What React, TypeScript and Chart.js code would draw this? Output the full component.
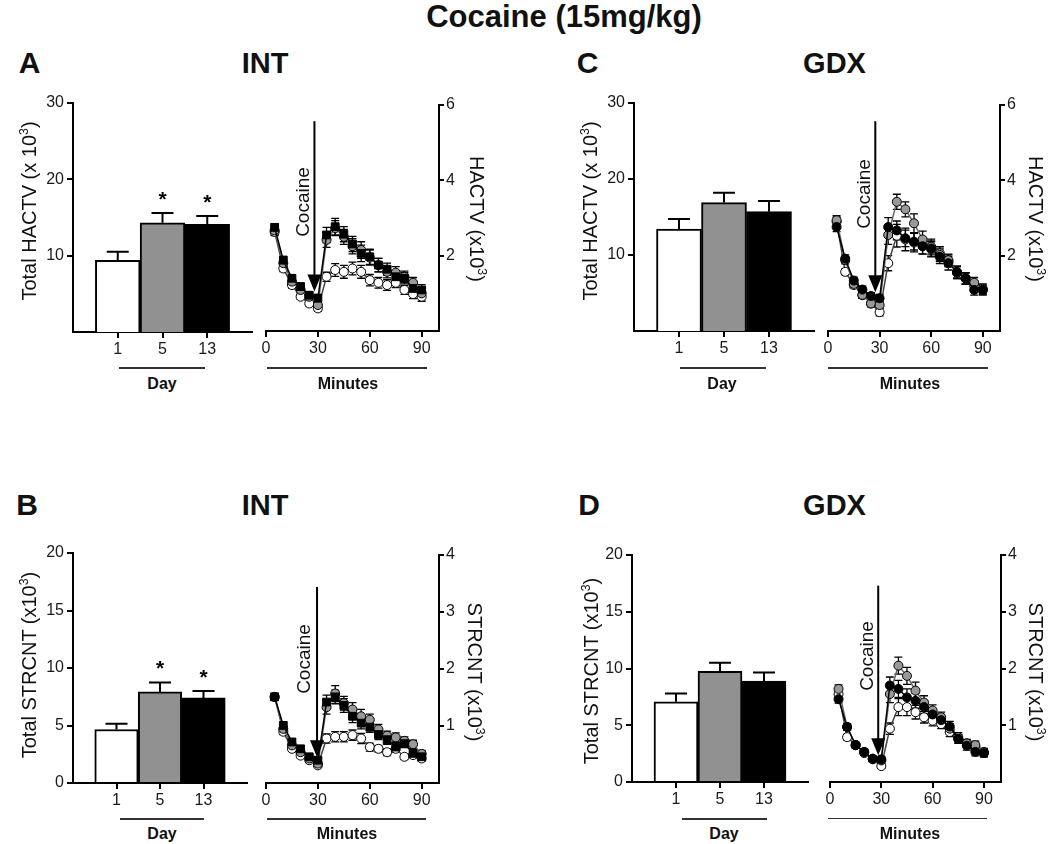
import React, { useEffect, useRef } from 'react';
import { Chart, registerables } from 'chart.js';

Chart.register(...registerables);

const FONT = "'Liberation Sans', Arial, Helvetica, sans-serif";

// ---------- data ----------
const dayLabels = ['1', '5', '13'];
const dayPositions = [1, 2, 3];
const barColors = ['#ffffff', '#919191', '#000000'];

const minutes = [5, 10, 15, 20, 25, 30, 35, 40, 45, 50, 55, 60, 65, 70, 75, 80, 85, 90];
const minuteTicks = [0, 30, 60, 90];

const hactvTotalTicks = [10, 20, 30];
const strcntTotalTicks = [0, 5, 10, 15, 20];
const hactvMinuteTicks = [2, 4, 6];
const strcntMinuteTicks = [1, 2, 3, 4];

// Totals (bars)
const hactvIntTotals = [9.4, 14.3, 14.1];
const hactvIntTotalsSem = [1.1, 1.3, 1.1];
const hactvIntStars = ['', '*', '*'];
const hactvGdxTotals = [13.4, 16.9, 15.7];
const hactvGdxTotalsSem = [1.35, 1.3, 1.4];
const hactvGdxStars = ['', '', ''];
const strcntIntTotals = [4.65, 7.92, 7.4];
const strcntIntTotalsSem = [0.5, 0.82, 0.6];
const strcntIntStars = ['', '*', '*'];
const strcntGdxTotals = [7.07, 9.76, 8.89];
const strcntGdxTotalsSem = [0.73, 0.74, 0.76];
const strcntGdxStars = ['', '', ''];

// Time courses (x10^3)
const hactvIntDay1 = [2.63, 1.66, 1.22, 0.91, 0.73, 0.6, 1.44, 1.62, 1.57, 1.66, 1.57, 1.35, 1.28, 1.22, 1.28, 1.09, 0.98, 0.91];
const hactvIntDay5 = [2.67, 1.8, 1.31, 1.09, 0.91, 0.69, 2.42, 2.73, 2.5, 2.25, 2.15, 1.95, 1.75, 1.57, 1.55, 1.44, 1.28, 1.0];
const hactvIntDay13 = [2.75, 1.88, 1.4, 1.18, 0.95, 0.87, 2.55, 2.77, 2.57, 2.31, 2.06, 1.97, 1.75, 1.64, 1.44, 1.4, 1.13, 1.09];
const hactvIntDay1Sem = [0.1, 0.08, 0.08, 0.07, 0.07, 0.08, 0.12, 0.17, 0.17, 0.17, 0.17, 0.15, 0.14, 0.14, 0.13, 0.12, 0.12, 0.12];
const hactvIntDay5Sem = [0.12, 0.1, 0.09, 0.09, 0.09, 0.1, 0.2, 0.2, 0.2, 0.2, 0.22, 0.2, 0.18, 0.16, 0.16, 0.15, 0.14, 0.13];
const hactvIntDay13Sem = [0.1, 0.1, 0.09, 0.09, 0.09, 0.1, 0.2, 0.22, 0.2, 0.2, 0.22, 0.2, 0.18, 0.16, 0.16, 0.15, 0.14, 0.14];

const hactvGdxDay1 = [2.9, 1.57, 1.22, 0.95, 0.73, 0.5, 1.8, 2.53, 2.43, 2.35, 2.26, 2.17, 2.06, 1.86, 1.55, 1.39, 1.2, 1.12];
const hactvGdxDay5 = [2.94, 1.88, 1.25, 0.96, 0.73, 0.69, 2.55, 3.43, 3.23, 2.86, 2.43, 2.24, 2.02, 1.88, 1.55, 1.4, 1.28, 1.09];
const hactvGdxDay13 = [2.76, 1.92, 1.34, 1.1, 0.93, 0.87, 2.76, 2.67, 2.46, 2.37, 2.25, 2.19, 1.97, 1.8, 1.57, 1.4, 1.09, 1.09];
const hactvGdxDay1Sem = [0.12, 0.08, 0.08, 0.08, 0.08, 0.1, 0.2, 0.3, 0.3, 0.25, 0.22, 0.2, 0.18, 0.16, 0.16, 0.15, 0.14, 0.13];
const hactvGdxDay5Sem = [0.12, 0.1, 0.09, 0.09, 0.09, 0.1, 0.25, 0.2, 0.2, 0.25, 0.22, 0.2, 0.18, 0.16, 0.16, 0.15, 0.14, 0.13];
const hactvGdxDay13Sem = [0.12, 0.1, 0.09, 0.09, 0.09, 0.1, 0.25, 0.25, 0.22, 0.22, 0.2, 0.2, 0.18, 0.18, 0.16, 0.15, 0.14, 0.13];

const strcntIntDay1 = [1.51, 0.9, 0.6, 0.48, 0.4, 0.31, 0.78, 0.81, 0.81, 0.84, 0.78, 0.63, 0.6, 0.54, 0.6, 0.46, 0.49, 0.43];
const strcntIntDay5 = [1.51, 0.95, 0.66, 0.54, 0.43, 0.34, 1.33, 1.57, 1.4, 1.29, 1.17, 1.11, 0.94, 0.83, 0.8, 0.74, 0.68, 0.51];
const strcntIntDay13 = [1.51, 1.01, 0.72, 0.6, 0.46, 0.4, 1.42, 1.51, 1.36, 1.17, 1.05, 0.98, 0.85, 0.76, 0.63, 0.69, 0.52, 0.46];
const strcntIntDay1Sem = [0.05, 0.05, 0.04, 0.04, 0.04, 0.04, 0.08, 0.09, 0.09, 0.09, 0.09, 0.07, 0.06, 0.06, 0.06, 0.05, 0.05, 0.05];
const strcntIntDay5Sem = [0.06, 0.06, 0.05, 0.05, 0.05, 0.05, 0.12, 0.14, 0.12, 0.12, 0.12, 0.1, 0.09, 0.08, 0.08, 0.07, 0.07, 0.06];
const strcntIntDay13Sem = [0.06, 0.06, 0.05, 0.05, 0.05, 0.05, 0.12, 0.12, 0.12, 0.11, 0.1, 0.09, 0.09, 0.08, 0.08, 0.07, 0.07, 0.07];

const strcntGdxDay1 = [1.55, 0.79, 0.65, 0.51, 0.4, 0.28, 0.94, 1.32, 1.32, 1.23, 1.14, 1.08, 1.02, 0.88, 0.76, 0.68, 0.62, 0.51];
const strcntGdxDay5 = [1.64, 0.97, 0.65, 0.53, 0.41, 0.38, 1.55, 2.05, 1.87, 1.61, 1.4, 1.26, 1.14, 0.94, 0.79, 0.68, 0.65, 0.53];
const strcntGdxDay13 = [1.46, 0.97, 0.65, 0.53, 0.41, 0.4, 1.7, 1.64, 1.49, 1.43, 1.32, 1.19, 1.09, 0.98, 0.76, 0.64, 0.53, 0.51];
const strcntGdxDay1Sem = [0.06, 0.05, 0.05, 0.04, 0.04, 0.04, 0.1, 0.15, 0.15, 0.12, 0.1, 0.09, 0.08, 0.08, 0.07, 0.06, 0.06, 0.06];
const strcntGdxDay5Sem = [0.07, 0.06, 0.05, 0.05, 0.05, 0.05, 0.15, 0.15, 0.15, 0.15, 0.12, 0.1, 0.09, 0.08, 0.08, 0.07, 0.07, 0.06];
const strcntGdxDay13Sem = [0.07, 0.06, 0.05, 0.05, 0.05, 0.05, 0.15, 0.15, 0.15, 0.13, 0.12, 0.1, 0.1, 0.09, 0.08, 0.08, 0.07, 0.07];

// ---------- plugins ----------
const errorBarsPlugin = {
  id: 'errorBars',
  beforeDatasetsDraw(chart: any, _a: any, opts: any) {
    if (opts.mode === 'both') drawErrors(chart, opts);
  },
  afterDatasetsDraw(chart: any, _a: any, opts: any) {
    if (opts.mode === 'up') drawErrors(chart, opts);
  },
};

function drawErrors(chart: any, opts: any) {
  const ctx = chart.ctx;
  const ys = chart.scales.y;
  ctx.save();
  ctx.strokeStyle = '#000';
  ctx.lineWidth = opts.lineWidth;
  const n = chart.data.datasets.length;
  for (let di = n - 1; di >= 0; di--) {
    const ds = chart.data.datasets[di];
    const errs = ds.errors;
    if (!errs) continue;
    const meta = chart.getDatasetMeta(di);
    meta.data.forEach((el: any, i: number) => {
      const v = ds.data[i].y;
      const e = errs[i];
      const x = el.x;
      const yTop = ys.getPixelForValue(v + e);
      const yBot = opts.mode === 'up' ? ys.getPixelForValue(v) : ys.getPixelForValue(v - e);
      ctx.beginPath();
      ctx.moveTo(x, yBot);
      ctx.lineTo(x, yTop);
      ctx.moveTo(x - opts.cap, yTop);
      ctx.lineTo(x + opts.cap, yTop);
      if (opts.mode !== 'up') {
        ctx.moveTo(x - opts.cap, yBot);
        ctx.lineTo(x + opts.cap, yBot);
      }
      ctx.stroke();
      if (ds.stars && ds.stars[i]) {
        ctx.fillStyle = '#000';
        ctx.font = `bold 21px ${FONT}`;
        ctx.textAlign = 'center';
        ctx.textBaseline = 'alphabetic';
        ctx.fillText(ds.stars[i], x, yTop - 7);
      }
    });
  }
  ctx.restore();
}

const arrowPlugin = {
  id: 'cocaineArrow',
  afterDatasetsDraw(chart: any, _a: any, opts: any) {
    if (opts.x === undefined) return;
    const ctx = chart.ctx;
    const px = chart.scales.x.getPixelForValue(opts.x);
    const top = chart.scales.y.getPixelForValue(opts.top);
    const tip = chart.scales.y.getPixelForValue(opts.tip);
    const headH = 17;
    const headW = 7;
    ctx.save();
    ctx.strokeStyle = '#000';
    ctx.fillStyle = '#000';
    ctx.lineWidth = 2;
    ctx.beginPath();
    ctx.moveTo(px, top);
    ctx.lineTo(px, tip - headH + 1);
    ctx.stroke();
    ctx.beginPath();
    ctx.moveTo(px - headW, tip - headH);
    ctx.lineTo(px + headW, tip - headH);
    ctx.lineTo(px, tip);
    ctx.closePath();
    ctx.fill();
    ctx.restore();
  },
};

// ---------- helpers ----------
type Area = { left: number; top: number; right: number; bottom: number };
type Rect = { x: number; y: number; w: number; h: number };

const axisGrid = {
  drawOnChartArea: false,
  drawTicks: true,
  tickLength: 6,
  color: '#000',
  lineWidth: 2,
  offset: false,
};
const axisBorder = { display: true, color: '#000', width: 2 };
const tickFont = { family: FONT, size: 16 };

function zeroPad(s: any) {
  s.paddingLeft = 0;
  s.paddingRight = 0;
  s.paddingTop = 0;
  s.paddingBottom = 0;
}

const BAR_YW = 70;
const BAR_XH = 34;
const PAD_TOP = 14;
const BAR_PAD_R = 12;

function barRect(a: Area): Rect {
  return { x: a.left - BAR_YW, y: a.top - PAD_TOP, w: a.right - a.left + BAR_YW + BAR_PAD_R, h: a.bottom - a.top + PAD_TOP + BAR_XH };
}

function barConfig(values: number[], sems: number[], stars: string[], yMax: number, yTicks: number[]) {
  return {
    type: 'bar',
    data: {
      datasets: [
        {
          data: values.map((v, i) => ({ x: dayPositions[i], y: v })),
          errors: sems,
          stars,
          backgroundColor: barColors,
          borderColor: '#000',
          borderWidth: 2,
          barPercentage: 1,
          categoryPercentage: 1,
        },
      ],
    },
    options: {
      responsive: false,
      animation: false,
      events: [],
      layout: { padding: { top: PAD_TOP, right: BAR_PAD_R, left: 0, bottom: 0 } },
      plugins: {
        legend: { display: false },
        tooltip: { enabled: false },
        errorBars: { mode: 'up', cap: 11, lineWidth: 2 },
      },
      scales: {
        x: {
          type: 'linear',
          min: 0,
          max: 4,
          offset: false,
          grid: axisGrid,
          border: axisBorder,
          ticks: {
            font: tickFont,
            color: '#1a1a1a',
            padding: 2,
            autoSkip: false,
            maxRotation: 0,
            callback: (v: number) => {
              const k = dayPositions.indexOf(v);
              return k >= 0 ? dayLabels[k] : '';
            },
          },
          afterBuildTicks: (s: any) => {
            s.ticks = dayPositions.map((v) => ({ value: v }));
          },
          afterFit: (s: any) => {
            s.height = BAR_XH;
            zeroPad(s);
          },
        },
        y: {
          type: 'linear',
          min: 0,
          max: yMax,
          grid: axisGrid,
          border: axisBorder,
          ticks: { font: tickFont, color: '#1a1a1a', padding: 3, autoSkip: false },
          afterBuildTicks: (s: any) => {
            s.ticks = yTicks.map((v) => ({ value: v }));
          },
          afterFit: (s: any) => {
            s.width = BAR_YW;
            zeroPad(s);
          },
        },
      },
    },
    plugins: [errorBarsPlugin],
  };
}

const TIME_PAD_L = 16;
const TIME_YW = 32;
const TIME_XH = 34;

function timeRect(a: Area): Rect {
  return { x: a.left - TIME_PAD_L, y: a.top - PAD_TOP, w: a.right - a.left + TIME_PAD_L + TIME_YW, h: a.bottom - a.top + PAD_TOP + TIME_XH };
}

function series(vals: number[], sems: number[], fill: string, line: string, style: string, radius: number) {
  return {
    data: vals.map((v, i) => ({ x: minutes[i], y: v })),
    errors: sems,
    borderColor: line,
    borderWidth: 1.5,
    pointBackgroundColor: fill,
    pointBorderColor: '#000',
    pointBorderWidth: 1,
    pointStyle: style,
    pointRadius: radius,
    tension: 0,
    fill: false,
  };
}

function timeConfig(day1: number[], day1Sem: number[], day5: number[], day5Sem: number[], day13: number[], day13Sem: number[], yMax: number, yTicks: number[], blackStyle: string, arrow: { x: number; top: number; tip: number }) {
  const bigR = blackStyle === 'rect' ? 5.5 : 4.5;
  return {
    type: 'line',
    data: {
      datasets: [
        series(day13, day13Sem, '#000000', '#000000', blackStyle, bigR),
        series(day5, day5Sem, '#999999', '#666666', 'circle', 4.5),
        series(day1, day1Sem, '#ffffff', '#444444', 'circle', 4.5),
      ],
    },
    options: {
      responsive: false,
      animation: false,
      events: [],
      layout: { padding: { top: PAD_TOP, right: 0, left: TIME_PAD_L, bottom: 0 } },
      plugins: {
        legend: { display: false },
        tooltip: { enabled: false },
        errorBars: { mode: 'both', cap: 4, lineWidth: 1.3 },
        cocaineArrow: arrow,
      },
      scales: {
        x: {
          type: 'linear',
          min: 0,
          max: 100,
          grid: axisGrid,
          border: axisBorder,
          ticks: { font: tickFont, color: '#1a1a1a', padding: 2, autoSkip: false, maxRotation: 0 },
          afterBuildTicks: (s: any) => {
            s.ticks = minuteTicks.map((v) => ({ value: v }));
          },
          afterFit: (s: any) => {
            s.height = TIME_XH;
            zeroPad(s);
          },
        },
        y: {
          type: 'linear',
          position: 'right',
          min: 0,
          max: yMax,
          grid: { ...axisGrid, tickLength: 5 },
          border: axisBorder,
          ticks: { font: tickFont, color: '#1a1a1a', padding: 2, autoSkip: false },
          afterBuildTicks: (s: any) => {
            s.ticks = yTicks.map((v) => ({ value: v }));
          },
          afterFit: (s: any) => {
            s.width = TIME_YW;
            zeroPad(s);
          },
        },
      },
    },
    plugins: [errorBarsPlugin, arrowPlugin],
  };
}

function ChartBox({ rect, make }: { rect: Rect; make: () => any }) {
  const ref = useRef<HTMLCanvasElement>(null);
  useEffect(() => {
    if (!ref.current) return;
    const chart = new Chart(ref.current, make());
    return () => chart.destroy();
  }, []);
  return (
    <canvas
      ref={ref}
      width={rect.w}
      height={rect.h}
      style={{ position: 'absolute', left: rect.x, top: rect.y, width: rect.w, height: rect.h }}
    />
  );
}

function Txt({ x, y, size, bold, rotate, children }: { x: number; y: number; size: number; bold?: boolean; rotate?: number; children: any }) {
  return (
    <div
      style={{
        position: 'absolute',
        left: x,
        top: y,
        transform: `translate(-50%, -50%)${rotate ? ` rotate(${rotate}deg)` : ''}`,
        fontFamily: FONT,
        fontSize: size,
        fontWeight: bold ? 'bold' : 'normal',
        lineHeight: 1,
        whiteSpace: 'nowrap',
        color: '#111',
      }}
    >
      {children}
    </div>
  );
}

function HLine({ x1, x2, y }: { x1: number; x2: number; y: number }) {
  return <div style={{ position: 'absolute', left: x1, top: y - 0.75, width: x2 - x1, height: 1.5, background: '#333' }} />;
}

const Sup = ({ children }: { children: any }) => (
  <span style={{ fontSize: '0.62em', verticalAlign: 'super', lineHeight: 0 }}>{children}</span>
);

// chart areas
const areaA: Area = { left: 73, top: 103, right: 252, bottom: 332 };
const areaAt: Area = { left: 266, top: 105, right: 439, bottom: 331 };
const areaC: Area = { left: 634, top: 103, right: 814, bottom: 331 };
const areaCt: Area = { left: 828, top: 105, right: 1000, bottom: 331 };
const areaB: Area = { left: 73, top: 553, right: 247, bottom: 783 };
const areaBt: Area = { left: 266, top: 555, right: 439, bottom: 783 };
const areaD: Area = { left: 632, top: 555, right: 808, bottom: 782 };
const areaDt: Area = { left: 830, top: 555, right: 1001, bottom: 782 };

export default function App() {
  return (
    <div style={{ position: 'absolute', left: 0, top: 0, width: 1050, height: 844, background: '#fff', overflow: 'hidden' }}>
      <Txt x={564} y={16} size={31} bold>
        Cocaine (15mg/kg)
      </Txt>

      {/* headers */}
      <Txt x={29.5} y={62.5} size={30} bold>A</Txt>
      <Txt x={265} y={62.5} size={29} bold>INT</Txt>
      <Txt x={587.5} y={63} size={30} bold>C</Txt>
      <Txt x={834.5} y={62.5} size={29} bold>GDX</Txt>
      <Txt x={27} y={505} size={30} bold>B</Txt>
      <Txt x={265} y={505} size={29} bold>INT</Txt>
      <Txt x={589} y={505} size={30} bold>D</Txt>
      <Txt x={834.5} y={505} size={29} bold>GDX</Txt>

      {/* charts */}
      <ChartBox rect={barRect(areaA)} make={() => barConfig(hactvIntTotals, hactvIntTotalsSem, hactvIntStars, 30, hactvTotalTicks)} />
      <ChartBox
        rect={timeRect(areaAt)}
        make={() => timeConfig(hactvIntDay1, hactvIntDay1Sem, hactvIntDay5, hactvIntDay5Sem, hactvIntDay13, hactvIntDay13Sem, 6, hactvMinuteTicks, 'rect', { x: 28, top: 5.57, tip: 1.05 })}
      />
      <ChartBox rect={barRect(areaC)} make={() => barConfig(hactvGdxTotals, hactvGdxTotalsSem, hactvGdxStars, 30, hactvTotalTicks)} />
      <ChartBox
        rect={timeRect(areaCt)}
        make={() => timeConfig(hactvGdxDay1, hactvGdxDay1Sem, hactvGdxDay5, hactvGdxDay5Sem, hactvGdxDay13, hactvGdxDay13Sem, 6, hactvMinuteTicks, 'circle', { x: 27.5, top: 5.57, tip: 1.03 })}
      />
      <ChartBox rect={barRect(areaB)} make={() => barConfig(strcntIntTotals, strcntIntTotalsSem, strcntIntStars, 20, strcntTotalTicks)} />
      <ChartBox
        rect={timeRect(areaBt)}
        make={() => timeConfig(strcntIntDay1, strcntIntDay1Sem, strcntIntDay5, strcntIntDay5Sem, strcntIntDay13, strcntIntDay13Sem, 4, strcntMinuteTicks, 'rect', { x: 29.5, top: 3.44, tip: 0.45 })}
      />
      <ChartBox rect={barRect(areaD)} make={() => barConfig(strcntGdxTotals, strcntGdxTotalsSem, strcntGdxStars, 20, strcntTotalTicks)} />
      <ChartBox
        rect={timeRect(areaDt)}
        make={() => timeConfig(strcntGdxDay1, strcntGdxDay1Sem, strcntGdxDay5, strcntGdxDay5Sem, strcntGdxDay13, strcntGdxDay13Sem, 4, strcntMinuteTicks, 'circle', { x: 28.2, top: 3.46, tip: 0.47 })}
      />

      {/* axis titles */}
      <Txt x={29} y={211} size={20} rotate={-90}>
        Total HACTV (x 10<Sup>3</Sup>)
      </Txt>
      <Txt x={590} y={211} size={20} rotate={-90}>
        Total HACTV (x 10<Sup>3</Sup>)
      </Txt>
      <Txt x={29} y={665} size={20} rotate={-90}>
        Total STRCNT (x10<Sup>3</Sup>)
      </Txt>
      <Txt x={591} y={671} size={20} rotate={-90}>
        Total STRCNT (x10<Sup>3</Sup>)
      </Txt>
      <Txt x={477} y={219} size={20} rotate={90}>
        HACTV (x10<Sup>3</Sup>)
      </Txt>
      <Txt x={1036} y={219} size={20} rotate={90}>
        HACTV (x10<Sup>3</Sup>)
      </Txt>
      <Txt x={475} y={672} size={20} rotate={90}>
        STRCNT (x10<Sup>3</Sup>)
      </Txt>
      <Txt x={1036} y={672} size={20} rotate={90}>
        STRCNT (x10<Sup>3</Sup>)
      </Txt>

      {/* Cocaine injection labels */}
      <Txt x={301.5} y={202} size={19} rotate={-90}>Cocaine</Txt>
      <Txt x={862.5} y={194} size={19} rotate={-90}>Cocaine</Txt>
      <Txt x={302.5} y={659} size={19} rotate={-90}>Cocaine</Txt>
      <Txt x={865.5} y={656} size={19} rotate={-90}>Cocaine</Txt>

      {/* x-axis group labels */}
      <HLine x1={119} x2={205} y={368} />
      <Txt x={162} y={384} size={16} bold>Day</Txt>
      <HLine x1={267} x2={427} y={368} />
      <Txt x={348} y={384} size={16} bold>Minutes</Txt>
      <HLine x1={680} x2={766} y={368} />
      <Txt x={722} y={384} size={16} bold>Day</Txt>
      <HLine x1={828} x2={988} y={368} />
      <Txt x={910} y={384} size={16} bold>Minutes</Txt>

      <HLine x1={120} x2={204} y={819} />
      <Txt x={162} y={834} size={16} bold>Day</Txt>
      <HLine x1={267} x2={426} y={819} />
      <Txt x={347} y={834} size={16} bold>Minutes</Txt>
      <HLine x1={682} x2={767} y={819} />
      <Txt x={724} y={834} size={16} bold>Day</Txt>
      <HLine x1={828} x2={987} y={818.5} />
      <Txt x={910} y={834} size={16} bold>Minutes</Txt>
    </div>
  );
}
